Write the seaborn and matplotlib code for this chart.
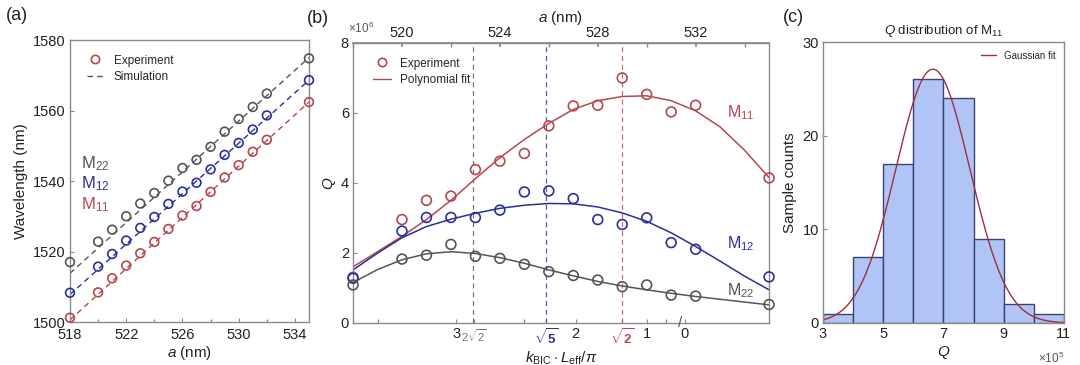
import numpy as np
import pandas as pd
import matplotlib
matplotlib.use("Agg")
import matplotlib.pyplot as plt
from matplotlib.lines import Line2D
import seaborn as sns

# ---------------- data ----------------
a_nm = [518, 520, 521, 522, 523, 524, 525, 526, 527, 528, 529, 530, 531, 532, 535]

wl_M22 = [1517.0, 1522.8, 1526.2, 1530.0, 1533.6, 1536.6, 1540.1, 1543.7, 1546.0,
          1549.7, 1554.0, 1557.6, 1561.0, 1564.8, 1574.8]
wl_M12 = [1508.3, 1515.7, 1519.3, 1523.1, 1526.7, 1529.8, 1533.5, 1537.0, 1539.5,
          1543.3, 1547.4, 1550.8, 1554.6, 1558.6, 1568.6]
wl_M11 = [1501.2, 1508.4, 1512.4, 1516.0, 1519.5, 1522.7, 1526.4, 1530.2, 1532.9,
          1536.9, 1541.0, 1544.5, 1548.3, 1551.7, 1562.4]

sim_a = [518, 535]
sim_M22 = [1513.8, 1575.0]
sim_M12 = [1507.8, 1568.6]
sim_M11 = [1500.6, 1562.4]

q_M11 = [1.30, 2.95, 3.50, 3.62, 4.38, 4.62, 4.84, 5.63, 6.20, 6.22, 7.00, 6.53, 6.03, 6.22, 4.14]
q_M12 = [1.27, 2.62, 3.01, 3.01, 3.01, 3.22, 3.74, 3.77, 3.55, 2.95, 2.81, 3.00, 2.29, 2.10, 1.31]
q_M22 = [1.08, 1.82, 1.93, 2.24, 1.90, 1.84, 1.67, 1.46, 1.35, 1.22, 1.03, 1.08, 0.79, 0.76, 0.52]

# polynomial-fit curves
fit_a = [518, 519, 520, 521, 522, 523, 524, 525, 526, 527, 528, 529, 530, 531, 532, 533, 534, 535]
fit_M11 = [1.60, 2.03, 2.47, 2.95, 3.50, 4.12, 4.72, 5.24, 5.70, 6.10, 6.35, 6.47, 6.49,
           6.35, 6.06, 5.60, 4.93, 4.15]
fit_M12 = [1.51, 1.99, 2.43, 2.75, 2.96, 3.13, 3.27, 3.36, 3.41, 3.40, 3.31, 3.14, 2.90,
           2.57, 2.18, 1.76, 1.33, 0.94]
fit_M22 = [1.15, 1.52, 1.80, 1.97, 2.03, 1.98, 1.86, 1.70, 1.51, 1.34, 1.18, 1.05, 0.94,
           0.84, 0.75, 0.67, 0.59, 0.51]

# k_BIC*L_eff/pi axis labels (placed along the a axis)
k_labels = ["3", r"$2\sqrt{2}$", r"$\mathbf{\sqrt{5}}$", "2", r"$\mathbf{\sqrt{2}}$", "1", "0"]
k_at_a = [522.22, 522.95, 525.9, 527.1, 529.0, 530.0, 531.55]
k_minor_at_a = [519.0, 525.0, 530.8]
bic_lines_a = [522.9, 525.9, 529.0]

hist_edges = [3, 4, 5, 6, 7, 8, 9, 10, 11]
hist_counts = [1, 7, 17, 26, 24, 9, 2, 1]
gauss_amp, gauss_mu, gauss_sigma = 27.1, 6.65, 1.23

# ---------------- style ----------------
sns.set_theme(style="ticks")
plt.rcParams["font.family"] = ["Liberation Sans", "DejaVu Sans"]
plt.rcParams["mathtext.fontset"] = "custom"
plt.rcParams["mathtext.rm"] = "Liberation Sans"
plt.rcParams["mathtext.it"] = "Liberation Sans:italic"
plt.rcParams["mathtext.bf"] = "Liberation Sans:bold"

RED = "#b5474f"
BLUE = "#2b2f9e"
GREY = "#555555"
SPINE = "#8a8a8a"
TXT = "#222222"

fig = plt.figure(figsize=(10.8, 3.65), dpi=100)
axA = fig.add_axes([0.0648, 0.1178, 0.2213, 0.7726])
axB = fig.add_axes([0.3269, 0.1159, 0.3852, 0.7663])
axC = fig.add_axes([0.7620, 0.1151, 0.2231, 0.7698])

def style_axis(ax):
    for s in ax.spines.values():
        s.set_color(SPINE)
        s.set_linewidth(1.0)
    ax.tick_params(direction="in", length=3, width=0.8, color=SPINE,
                   labelsize=10.5, labelcolor=TXT, pad=3)

pal = {"M22": GREY, "M12": BLUE, "M11": RED}

# ---------------- panel (a) ----------------
dfA = pd.DataFrame({"a": a_nm * 3,
                    "wl": wl_M22 + wl_M12 + wl_M11,
                    "mode": ["M22"] * 15 + ["M12"] * 15 + ["M11"] * 15})
dfS = pd.DataFrame({"a": sim_a * 3,
                    "wl": sim_M22 + sim_M12 + sim_M11,
                    "mode": ["M22"] * 2 + ["M12"] * 2 + ["M11"] * 2})
for m in ["M22", "M12", "M11"]:
    sub = dfS[dfS["mode"] == m]
    sns.lineplot(data=sub, x="a", y="wl", ax=axA, color=pal[m], lw=1.0,
                 linestyle=(0, (4, 3)), legend=False)
for m in ["M22", "M12", "M11"]:
    sub = dfA[dfA["mode"] == m]
    sns.scatterplot(data=sub, x="a", y="wl", ax=axA, marker="o", s=40,
                    facecolor="none", edgecolor=pal[m], linewidth=1.2,
                    legend=False, clip_on=False, zorder=3)
axA.set_xlim(518, 535)
axA.set_ylim(1500, 1580)
axA.set_xticks([518, 522, 526, 530, 534])
axA.set_xticks([520, 524, 528, 532], minor=True)
axA.set_yticks([1500, 1520, 1540, 1560, 1580])
style_axis(axA)
axA.tick_params(axis="x", pad=4)
axA.tick_params(which="minor", direction="in", length=2, color=SPINE)
axA.set_xlabel(r"$a$ (nm)", fontsize=11, color=TXT, labelpad=2)
axA.set_ylabel("Wavelength (nm)", fontsize=11, color=TXT, labelpad=4)
axA.text(518.8, 1545, r"M$_{22}$", color=GREY, fontsize=12, va="center")
axA.text(518.8, 1539.2, r"M$_{12}$", color=BLUE, fontsize=12, va="center")
axA.text(518.8, 1533.4, r"M$_{11}$", color=RED, fontsize=12, va="center")
hA = [Line2D([], [], marker="o", ls="none", mfc="none", mec=RED, mew=1.2, ms=6),
      Line2D([], [], color=GREY, lw=1.0, ls=(0, (4, 3)))]
axA.legend(hA, ["Experiment", "Simulation"], loc="upper left", frameon=False,
           fontsize=8.5, handlelength=1.5, borderaxespad=0.6, labelspacing=0.4,
           bbox_to_anchor=(0.02, 0.99))
axA.text(-0.27, 1.07, "(a)", transform=axA.transAxes, fontsize=13, color=TXT)

# ---------------- panel (b) ----------------
dfB = pd.DataFrame({"a": a_nm * 3,
                    "Q": q_M11 + q_M12 + q_M22,
                    "mode": ["M11"] * 15 + ["M12"] * 15 + ["M22"] * 15})
dfF = pd.DataFrame({"a": fit_a * 3,
                    "Q": fit_M11 + fit_M12 + fit_M22,
                    "mode": ["M11"] * 18 + ["M12"] * 18 + ["M22"] * 18})
for x, c in zip(bic_lines_a, [GREY, BLUE, RED]):
    axB.axvline(x, color=c, lw=0.9, ls=(0, (4, 3)), alpha=0.8, zorder=1)
for m in ["M11", "M12", "M22"]:
    sns.lineplot(data=dfF[dfF["mode"] == m], x="a", y="Q", ax=axB,
                 color=pal[m], lw=1.1, legend=False)
    sns.scatterplot(data=dfB[dfB["mode"] == m], x="a", y="Q", ax=axB, marker="o",
                    s=50, facecolor="none", edgecolor=pal[m], linewidth=1.2,
                    legend=False, clip_on=False, zorder=3)
axB.set_xlim(518, 535)
axB.set_ylim(0, 8)
axB.set_yticks([0, 2, 4, 6, 8])
axB.set_xticks(k_at_a)
axB.set_xticklabels(k_labels)
axB.set_xticks(k_minor_at_a, minor=True)
style_axis(axB)
axB.tick_params(which="minor", direction="in", length=3, color=SPINE)
tl = axB.get_xticklabels()
tl[1].set_color("#777777"); tl[1].set_fontsize(8)
tl[2].set_color(BLUE); tl[2].set_fontsize(9.5)
tl[4].set_color(RED); tl[4].set_fontsize(9.5)
axB.text(531.35, 0, "/", fontsize=11, color=GREY, ha="center", va="center")
axB.set_xlabel(r"$k_{\mathrm{BIC}}\cdot L_{\mathrm{eff}}/\pi$", fontsize=11,
               color=TXT, labelpad=2)
axB.set_ylabel(r"$Q$", fontsize=11, color=TXT, labelpad=2)
secB = axB.secondary_xaxis("top")
secB.set_xticks([520, 524, 528, 532])
secB.set_xticks([518, 522, 526, 530, 534], minor=True)
secB.tick_params(direction="in", length=3, color=SPINE, labelsize=10.5,
                 labelcolor=TXT, pad=2)
secB.tick_params(which="minor", direction="in", length=3, color=SPINE)
secB.spines["top"].set_color(SPINE)
secB.set_xlabel(r"$a$ (nm)", fontsize=11, color=TXT, labelpad=3)
axB.text(-0.013, 1.025, r"$\times$10$^6$", transform=axB.transAxes, fontsize=8.5,
         color=GREY, ha="left", va="bottom")
axB.text(533.3, 6.0, r"M$_{11}$", color=RED, fontsize=11.5, va="center")
axB.text(533.3, 2.25, r"M$_{12}$", color=BLUE, fontsize=11.5, va="center")
axB.text(533.3, 0.92, r"M$_{22}$", color=GREY, fontsize=11.5, va="center")
hB = [Line2D([], [], marker="o", ls="none", mfc="none", mec=RED, mew=1.2, ms=6),
      Line2D([], [], color=RED, lw=1.0)]
axB.legend(hB, ["Experiment", "Polynomial fit"], loc="upper left", frameon=False,
           fontsize=8.5, handlelength=1.5, borderaxespad=0.6, labelspacing=0.4,
           bbox_to_anchor=(0.02, 0.99))
axB.text(-0.11, 1.07, "(b)", transform=axB.transAxes, fontsize=13, color=TXT)

# ---------------- panel (c) ----------------
centers = [(hist_edges[i] + hist_edges[i + 1]) / 2 for i in range(len(hist_counts))]
sns.histplot(x=centers, weights=hist_counts, bins=hist_edges, ax=axC,
             color="#b1c4f6", edgecolor="#3d4270", linewidth=1.0, alpha=1.0)
qq = np.linspace(3, 11, 300)
gfit = gauss_amp * np.exp(-(qq - gauss_mu) ** 2 / (2 * gauss_sigma ** 2))
sns.lineplot(x=qq, y=gfit, ax=axC, color="#9e2f40", lw=1.0, label="Gaussian fit")
axC.set_xlim(3, 11)
axC.set_ylim(0, 30)
axC.set_xticks([3, 5, 7, 9, 11])
axC.set_yticks([0, 10, 20, 30])
style_axis(axC)
axC.set_xlabel(r"$Q$", fontsize=11, color=TXT, labelpad=2)
axC.set_ylabel("Sample counts", fontsize=11, color=TXT, labelpad=4)
axC.set_title(r"$Q$ distribution of M$_{11}$", fontsize=9.5, color=TXT, pad=6)
axC.legend(loc="upper right", frameon=False, fontsize=7, handlelength=1.5,
           borderaxespad=0.5)
axC.text(1.0, -0.1, r"$\times$10$^5$", transform=axC.transAxes, fontsize=8.5,
         color=GREY, ha="right", va="top")
axC.text(-0.165, 1.07, "(c)", transform=axC.transAxes, fontsize=13, color=TXT)

fig.savefig("out.png", dpi=100)
